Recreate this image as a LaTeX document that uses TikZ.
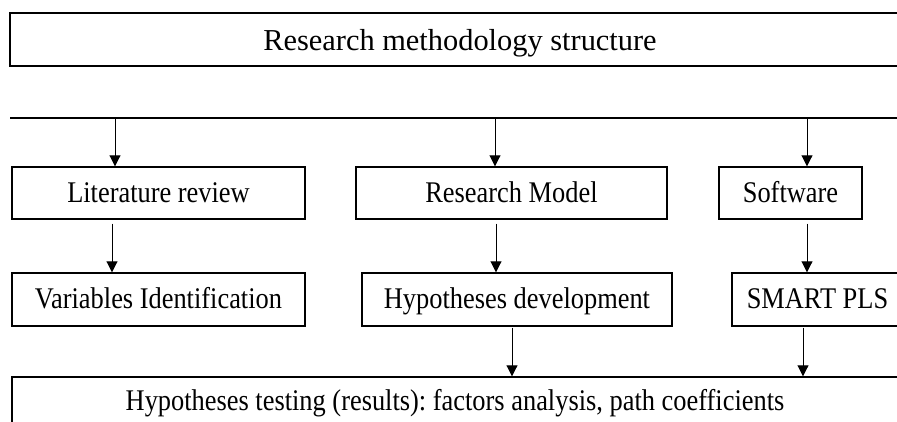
\documentclass[tikz,border=0pt]{standalone}
\usepackage{fontspec}
\setmainfont{Liberation Serif}
\newfontfamily\boxfont[FakeStretch=0.88]{Liberation Serif}
\usetikzlibrary{arrows.meta}
\frenchspacing
\begin{document}
\begin{tikzpicture}[x=1pt,y=-1pt,
  box/.style={draw, line width=1.4pt, rectangle, inner sep=0pt, text height=21pt, text depth=3pt,
    font=\frenchspacing\boxfont\fontsize{30}{34}\selectfont},
  arr/.style={line width=0.9pt, -{Triangle[length=11pt,width=11pt]}},
  rule/.style={line width=1.6pt}
]
\useasboundingbox (0,0) rectangle (897,421);
\clip (0,0) rectangle (897,421);
% title
\node[box, minimum width=900, minimum height=53, text height=24pt, text depth=3pt,
  font=\fontsize{30.4}{34}\selectfont] (title) at (460,39.5) {Research methodology structure};
% horizontal rule
\coordinate (r0) at (10,118);
\coordinate (r1) at (905,118);
\draw[rule] (r0) -- (r1);
\coordinate (b1) at (115,118);
\coordinate (b2) at (495,118);
\coordinate (b3) at (807,118);
% row 1
\node[box, minimum width=293, minimum height=52] (lit) at (158.5,193) {Literature review};
\node[box, minimum width=311, minimum height=52] (model) at (511.5,193) {Research Model};
\node[box, minimum width=143, minimum height=52] (soft) at (790.5,193) {Software};
% row 2
\node[box, minimum width=293, minimum height=53] (var) at (158.5,299.5) {Variables Identification};
\node[box, minimum width=310, minimum height=53] (hyp) at (517,299.5) {Hypotheses development};
\node[box, minimum width=171, minimum height=53] (smart) at (817.5,299.5) {SMART PLS};
% bottom
\node[box, minimum width=886, minimum height=46, text height=22pt, text depth=2pt] (test) at (455,400) {Hypotheses testing (results): factors analysis, path coefficients};
% connectors
\draw[arr] (b1) -- (lit.north -| b1);
\draw[arr] (b2) -- (model.north -| b2);
\draw[arr] (b3) -- (soft.north -| b3);
\coordinate (c1) at (112,0);
\coordinate (c2) at (496,0);
\coordinate (c3) at (807,0);
\draw[arr, shorten <=4pt] (lit.south -| c1) -- (var.north -| c1);
\draw[arr, shorten <=4pt] (model.south -| c2) -- (hyp.north -| c2);
\draw[arr, shorten <=4pt] (soft.south -| c3) -- (smart.north -| c3);
\coordinate (d1) at (512,0);
\coordinate (d2) at (803,0);
\draw[arr, shorten <=1pt] (hyp.south -| d1) -- (test.north -| d1);
\draw[arr, shorten <=1pt] (smart.south -| d2) -- (test.north -| d2);
\end{tikzpicture}
\end{document}
